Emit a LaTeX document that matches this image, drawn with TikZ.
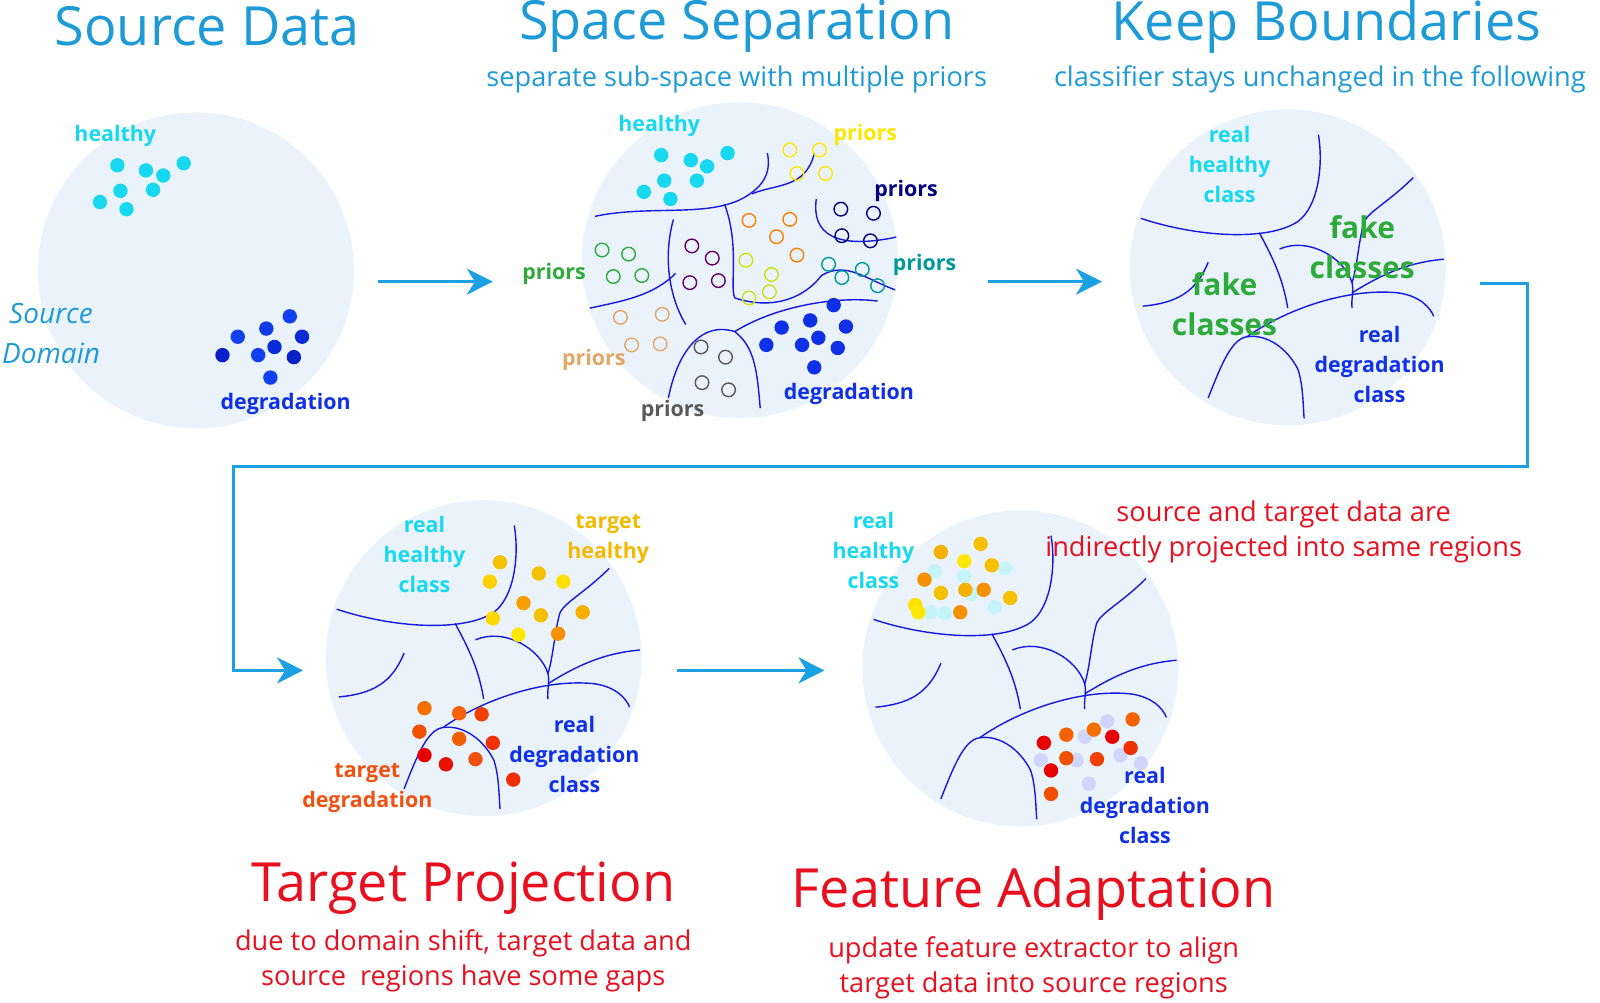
\documentclass[tikz,border=0pt]{standalone}
\usepackage{fontspec}
\setmainfont{Open Sans}
\usetikzlibrary{arrows.meta}
\definecolor{cfill}{HTML}{EAF3FB}
\definecolor{ttl}{HTML}{1E9BD7}
\definecolor{arr}{HTML}{1BA1E2}
\definecolor{bnd}{HTML}{1818E0}
\definecolor{cy}{HTML}{18D8F0}
\definecolor{dg}{HTML}{1030E8}
\definecolor{rd}{HTML}{E8101E}
\definecolor{fk}{HTML}{2EAA3A}
\definecolor{th}{HTML}{F5B800}
\definecolor{td}{HTML}{F05010}
\tikzset{
 blob/.style={fill=cfill,draw=none},
 bd/.style={bnd,line width=0.7pt},
 ar/.style={arr,line width=1.6pt,-{Stealth[length=13pt,width=13pt,inset=4pt]}},
 lab/.style={font=\fontsize{10.7}{15}\selectfont\bfseries,align=center},
 ttlt/.style={ttl,font=\fontsize{27}{30}\selectfont},
 sub/.style={ttl,font=\fontsize{13.6}{16}\selectfont},
 rtt/.style={rd,font=\fontsize{27}{30}\selectfont},
 rsub/.style={rd,font=\fontsize{13.6}{17.5}\selectfont,align=center},
 od/.style={draw=#1,line width=0.7pt,fill=none},
}
\newcommand{\bounds}{%
 \draw[bd] (-144,-48) .. controls (-90,-30) and (-20,-25) .. (10,-45) .. controls (30,-60) and (35,-100) .. (30,-130);
 \draw[bd] (-28,-34) .. controls (-15,-10) and (-5,10) .. (0,40);
 \draw[bd] (-8,-18) .. controls (20,-30) and (55,-10) .. (63,15) .. controls (65,25) and (62,30) .. (63,40);
 \draw[bd] (123,-88) .. controls (100,-65) and (80,-55) .. (75,-45) .. controls (70,-30) and (68,0) .. (63,15);
 \draw[bd] (153,-8) .. controls (120,-5) and (95,5) .. (63,25);
 \draw[bd] (-142,38) .. controls (-110,35) and (-90,25) .. (-78,-5);
 \draw[bd] (-40,68) .. controls (0,40) and (60,20) .. (108,25) .. controls (130,28) and (140,40) .. (143,48);
 \draw[bd] (-78,128) .. controls (-65,95) and (-55,70) .. (-40,68) .. controls (-20,65) and (0,80) .. (10,100) .. controls (15,115) and (15,135) .. (16,148);
}
\begin{document}
\begin{tikzpicture}[x=0.5102pt,y=-0.5102pt]
% circles
\node[blob,circle,minimum size=158pt,inner sep=0pt,outer sep=0pt] (c1) at (192,265) {};
\node[blob,circle,minimum size=158pt,inner sep=0pt,outer sep=0pt] (c2) at (725,255) {};
\node[blob,circle,minimum size=158pt,inner sep=0pt,outer sep=0pt] (c3) at (1262,262) {};
\node[blob,circle,minimum size=158pt,inner sep=0pt,outer sep=0pt] (c4) at (474,645) {};
\node[blob,circle,minimum size=158pt,inner sep=0pt,outer sep=0pt] (c5) at (1000,655) {};
% titles
\node[ttlt] (t1) at (203,26) {Source Data};
\node[ttlt] (t2) at (722,26) {Space Separation};
\node[ttlt] (t3) at (1300,26) {Keep Boundaries};
\node[sub] (s2) at (722,78) {separate sub-space with multiple priors};
\node[sub,anchor=west] (s3) at (1026,78) {classifier stays unchanged in the following};
\node[rtt] (t4) at (454,870) {Target Projection};
\node[rsub] (s4) at (454,942) {due to domain shift, target data and\\source\ \ regions have some gaps};
\node[rtt] (t5) at (1013,876) {Feature Adaptation};
\node[rsub] (s5) at (1013,948) {update feature extractor to align\\target data into source regions};
% arrows
\coordinate (a1) at (370,276); \coordinate (a2) at (483,276);
\coordinate (a3) at (968,276); \coordinate (a4) at (1080,276);
\coordinate (a5) at (1450,278); \coordinate (a6) at (297,657);
\coordinate (a7) at (663,657); \coordinate (a8) at (808,657);
\draw[ar] (a1) -- (a2);
\draw[ar] (a3) -- (a4);
\draw[ar] (a5) -- (1497,278) -- (1497,457) -- (229,457) -- (229,657) -- (a6);
\draw[ar] (a7) -- (a8);
% circle 1
\foreach \p in {(115,162),(143,167),(160,172),(180,160),(118,187),(150,186),(98,198),(124,205)} \fill[cy] \p circle[radius=3.6pt];
\foreach \p/\c in {(284,310)/1040F0,(233,330)/1040F0,(261,322)/0E3AE8,(296,330)/0B2AD8,(218,348)/0A20C8,(253,348)/1040F0,(269,340)/0B2AD8,(288,350)/0A20C8,(265,370)/1040F0}{\definecolor{tmp}{HTML}{\c}\fill[tmp] \p circle[radius=3.6pt];}
\node[lab,cy] (l1) at (113,133) {healthy};
\node[lab,dg] (l2) at (280,396) {degradation};
\node[ttl,font=\fontsize{14}{20}\selectfont\itshape,align=center] (l3) at (50,327) {Source\\Domain};
% circle 2
\begin{scope}
\clip (725,255) circle[radius=155];
\draw[bd] (583,212) .. controls (640,200) and (700,215) .. (735,190) .. controls (752,178) and (755,165) .. (752,150);
\draw[bd] (737,190) .. controls (760,180) and (790,185) .. (798,150);
\draw[bd] (800,195) .. controls (795,230) and (820,245) .. (880,232);
\draw[bd] (660,215) .. controls (650,250) and (655,290) .. (672,318);
\draw[bd] (710,200) .. controls (725,240) and (715,280) .. (720,292);
\draw[bd] (578,302) .. controls (610,295) and (640,290) .. (662,268);
\draw[bd] (720,292) .. controls (760,305) and (790,290) .. (805,270) .. controls (830,255) and (850,275) .. (880,285);
\draw[bd] (655,390) .. controls (665,340) and (690,315) .. (720,325) .. controls (740,340) and (742,365) .. (745,400);
\draw[bd] (720,325) .. controls (760,300) and (820,290) .. (860,295);
\end{scope}
\foreach \p in {(648,152),(677,157),(693,163),(713,150),(651,177),(683,177),(631,188),(657,195)} \fill[cy] \p circle[radius=3.6pt];
\foreach \p in {(817,299),(766,321),(794,314),(829,320),(751,338),(786,338),(802,331),(821,341),(798,360)} \fill[dg] \p circle[radius=3.6pt];
\foreach \p in {(774,147),(803,147),(781,170),(809,170)} \draw[od=yellow!90!orange] \p circle[radius=3.4pt];
\foreach \p in {(824,205),(856,209),(825,231),(853,236)} \draw[od=blue!50!black] \p circle[radius=3.4pt];
\foreach \p in {(734,216),(774,215),(761,232),(781,250)} \draw[od=orange] \p circle[radius=3.4pt];
\foreach \p in {(678,241),(698,253),(676,277),(704,275)} \draw[od=violet!80!black] \p circle[radius=3.4pt];
\foreach \p in {(731,255),(756,269),(734,292),(754,286)} \draw[od=yellow!80!green] \p circle[radius=3.4pt];
\foreach \p in {(590,245),(616,249),(601,271),(629,270)} \draw[od=fk] \p circle[radius=3.4pt];
\foreach \p in {(812,259),(845,264),(825,272),(860,280)} \draw[od=teal!80!cyan] \p circle[radius=3.4pt];
\foreach \p in {(608,311),(649,308),(619,338),(647,337)} \draw[od=brown!60!orange!70] \p circle[radius=3.4pt];
\foreach \p in {(687,340),(711,350),(688,375),(714,382)} \draw[od=gray!70!black] \p circle[radius=3.4pt];
\node[lab,cy] (m1) at (646,123) {healthy};
\node[lab,yellow!90!orange] (m2) at (848,132) {priors};
\node[lab,blue!50!black] (m3) at (888,187) {priors};
\node[lab,teal!80!cyan] (m4) at (906,260) {priors};
\node[lab,fk] (m5) at (543,268) {priors};
\node[lab,brown!60!orange!70] (m6) at (582,353) {priors};
\node[lab,gray!70!black] (m7) at (659,403) {priors};
\node[lab,dg] (m8) at (832,386) {degradation};
% circle 3
\begin{scope}[shift={(1262,262)}]\bounds\end{scope}
\node[lab,cy] (k1) at (1205,161) {real\\healthy\\class};
\node[fk,font=\fontsize{15}{20}\selectfont\bfseries,align=center] (k2) at (1335,242) {fake\\classes};
\node[fk,font=\fontsize{15}{20}\selectfont\bfseries,align=center] (k3) at (1200,298) {fake\\classes};
\node[lab,dg] (k4) at (1352,357) {real\\degradation\\class};
% circle 4
\begin{scope}[shift={(474,645)}]\bounds\end{scope}
\node[lab,cy] (p1) at (416,543) {real\\healthy\\class};
\node[lab,th] (p2) at (596,528) {target\\healthy};
\foreach \p/\c in {(490,551)/F5C000,(528,562)/F5C000,(552,570)/FFE000,(480,570)/FFD000,(513,591)/F5A000,(530,603)/F5C000,(571,600)/F5B000,(483,606)/FFD800,(508,622)/FFE800,(547,621)/F59000}{\definecolor{tmp}{HTML}{\c}\fill[tmp] \p circle[radius=3.6pt];}
\foreach \p/\c in {(416,694)/F57000,(450,699)/F56000,(472,700)/F04000,(411,717)/F05000,(450,724)/F06000,(483,728)/F03000,(416,740)/E80000,(437,749)/E81000,(466,744)/F05010,(503,764)/F03000}{\definecolor{tmp}{HTML}{\c}\fill[tmp] \p circle[radius=3.6pt];}
\node[lab,td] (p3) at (360,772) {target\\degradation};
\node[lab,dg] (p4) at (563,739) {real\\degradation\\class};
% circle 5
\begin{scope}[shift={(1000,655)}]\bounds\end{scope}
\node[lab,cy] (f1) at (856,539) {real\\healthy\\class};
\foreach \p in {(916,560),(945,565),(985,557),(952,582),(975,595),(912,600),(926,601)} \fill[cy!25] \p circle[radius=3.6pt];
\foreach \p/\c in {(922,541)/F5B000,(961,533)/F5C000,(945,550)/FFE800,(972,554)/F5C000,(906,568)/F59000,(922,581)/F5C000,(946,578)/F5B000,(964,578)/F59000,(990,586)/F5C000,(897,593)/FFE000,(900,600)/FFE800,(941,600)/F59000}{\definecolor{tmp}{HTML}{\c}\fill[tmp] \p circle[radius=3.6pt];}
\foreach \p in {(1085,707),(1063,722),(1098,740),(1055,745),(1118,748),(1020,745),(1067,768)} \fill[dg!20] \p circle[radius=3.6pt];
\foreach \p/\c in {(1110,705)/F56000,(1045,720)/F56000,(1072,715)/F57000,(1090,722)/E80000,(1023,728)/E80000,(1108,733)/F03000,(1045,743)/F05000,(1075,744)/F04000,(1030,755)/E80000,(1030,778)/F05000}{\definecolor{tmp}{HTML}{\c}\fill[tmp] \p circle[radius=3.6pt];}
\node[lab,dg] (f2) at (1122,789) {real\\degradation\\class};
\node[rsub] (f3) at (1258,521) {source and target data are\\indirectly projected into same regions};
\pgfresetboundingbox
\useasboundingbox (0,0) rectangle (1568,982);
\end{tikzpicture}
\end{document}
